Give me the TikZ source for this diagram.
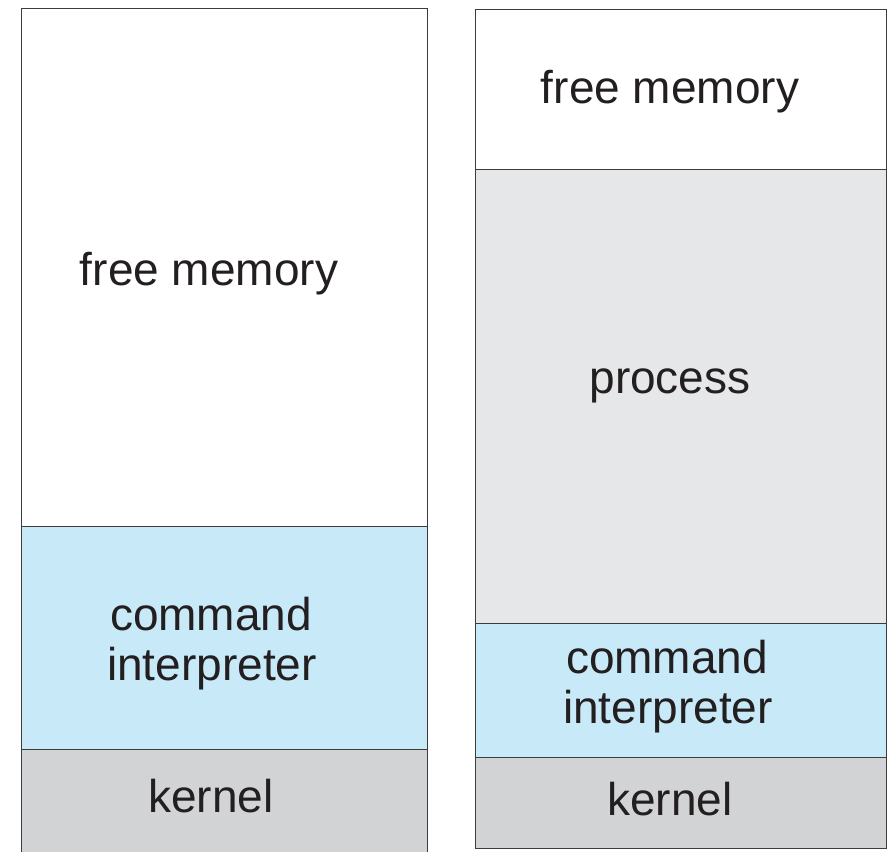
\documentclass[tikz,border=0pt]{standalone}
\usepackage{fontspec}
\setmainfont{Liberation Sans}
\definecolor{cmdblue}{HTML}{C7E9F8}
\definecolor{kerngray}{HTML}{D1D3D4}
\definecolor{procgray}{HTML}{E6E7E8}
\definecolor{inkc}{HTML}{231F20}
\definecolor{edgec}{HTML}{3C3C3C}
\begin{document}
\begin{tikzpicture}[x=1pt,y=-1pt,
  region/.style={draw=edgec,line width=0.9pt},
  lbl/.style={anchor=base,inner sep=0pt,text=inkc,font=\fontsize{46}{51}\selectfont}]
\useasboundingbox (0,0) rectangle (890,851);
% left: memory at boot
\foreach \t / \b / \c in {8/526/white, 526/749/cmdblue, 749/860/kerngray}
  \draw[region,fill=\c] (21,\t) rectangle (427,\b);
% right: while a process runs
\foreach \t / \b / \c in {9/169/white, 169/623/procgray, 623/757/cmdblue, 757/848/kerngray}
  \draw[region,fill=\c] (475,\t) rectangle (886,\b);

\node[lbl] (Lfree) at (209,285) {free memory};
\node[lbl] (Lcmd) at (211,630) {command};
\node[lbl] (Lint) at (212,680) {interpreter};
\node[lbl] (Lkern) at (211,812) {kernel};

\node[lbl] (Rfree) at (670,103) {free memory};
\node[lbl] (Rproc) at (670,393) {process};
\node[lbl] (Rcmd) at (667,673) {command};
\node[lbl] (Rint) at (668,723) {interpreter};
\node[lbl] (Rkern) at (670,815) {kernel};
\end{tikzpicture}
\end{document}
